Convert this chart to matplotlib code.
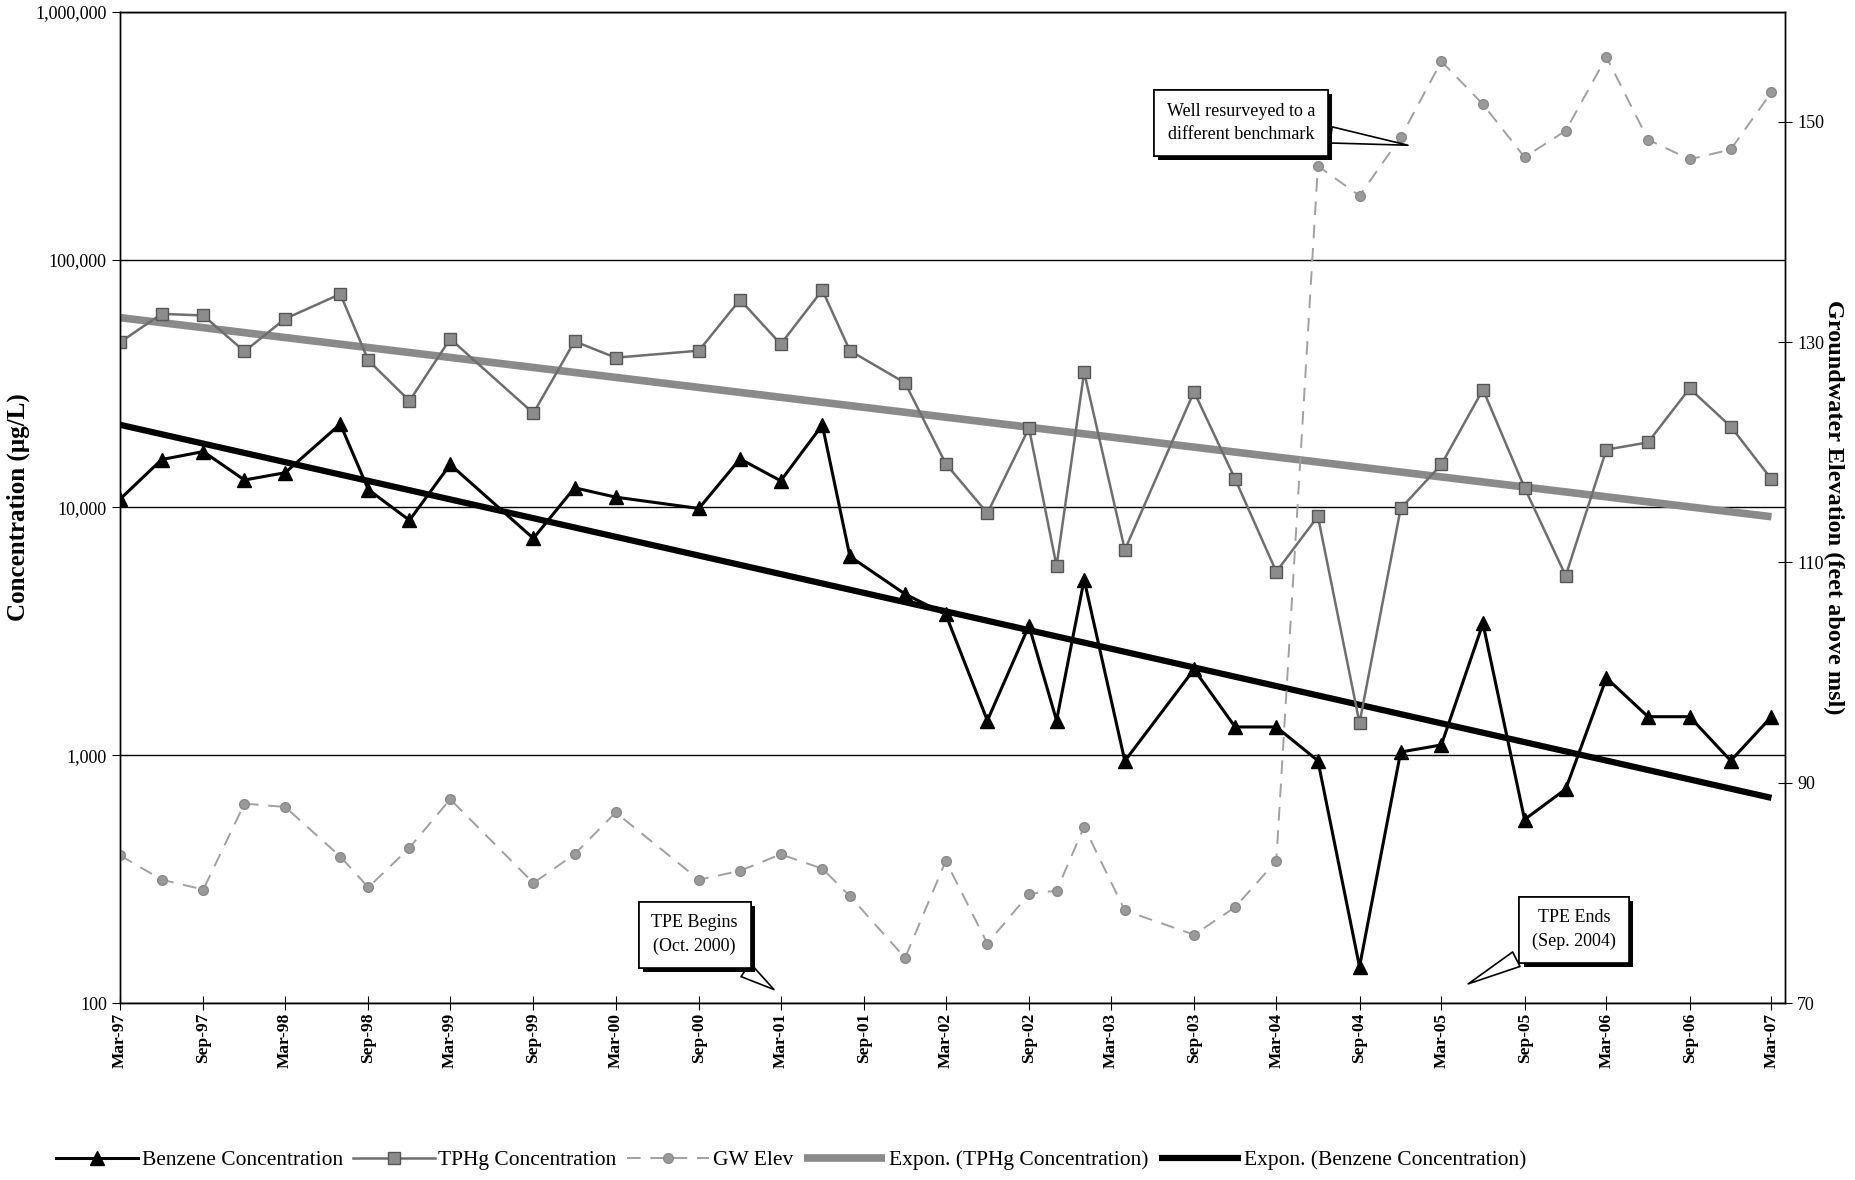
import numpy as np
import matplotlib
matplotlib.use('Agg')
import matplotlib.pyplot as plt
import matplotlib.dates as mdates
import matplotlib.ticker as mticker
import matplotlib.patheffects as pe
from datetime import datetime

# sampling dates (year-month)
dates = ['1997-03', '1997-06', '1997-09', '1997-12',
         '1998-03', '1998-07', '1998-09', '1998-12',
         '1999-03', '1999-09', '1999-12',
         '2000-03', '2000-09', '2000-12',
         '2001-03', '2001-06', '2001-08', '2001-12',
         '2002-03', '2002-06', '2002-09', '2002-11',
         '2003-01', '2003-04', '2003-09', '2003-12',
         '2004-03', '2004-06', '2004-09', '2004-12',
         '2005-03', '2005-06', '2005-09', '2005-12',
         '2006-03', '2006-06', '2006-09', '2006-12',
         '2007-03']

# concentrations (ug/L)
benzene = [10800, 15600, 16800, 12900,
           13800, 21700, 11800, 8870,
           14900, 7500, 12000,
           11000, 9900, 15700,
           12800, 21500, 6340, 4470,
           3700, 1380, 3330, 1380,
           5110, 948, 2220, 1300,
           1300, 950, 140, 1030,
           1100, 3400, 550, 730,
           2050, 1430, 1430, 950,
           1430]
tphg = [46400, 60400, 59500, 42600,
        57700, 72600, 39200, 26900,
        47900, 24000, 46800,
        40200, 42900, 68900,
        45600, 75300, 42900, 31800,
        15000, 9480, 20900, 5800,
        35100, 6740, 29300, 13000,
        5500, 9200, 1350, 9900,
        14900, 29900, 12000, 5300,
        17100, 18300, 30200, 21200,
        13000]
# groundwater elevation (feet above msl)
gw_elev = [83.4, 81.2, 80.3, 88.1,
           87.8, 83.3, 80.5, 84.1,
           88.5, 80.9, 83.5,
           87.3, 81.2, 82.0,
           83.5, 82.2, 79.7, 74.1,
           82.9, 75.4, 79.9, 80.2,
           86.0, 78.4, 76.2, 78.7,
           82.9, 146.0, 143.3, 148.6,
           155.5, 151.6, 146.8, 149.2,
           155.9, 148.4, 146.6, 147.5,
           152.7]

x = [datetime.strptime(d, '%Y-%m') for d in dates]
xn = mdates.date2num(x)

plt.rcParams['font.family'] = ['Liberation Serif', 'DejaVu Serif']

fig = plt.figure(figsize=(18.56, 11.8), dpi=100)
ax = fig.add_axes([0.0647, 0.15, 0.8973, 0.84])
ax2 = ax.twinx()

# exponential trend lines (least squares on log values, like Excel)
b_fit = np.polyfit(xn, np.log(benzene), 1)
t_fit = np.polyfit(xn, np.log(tphg), 1)
xt = np.array([xn[0], xn[-1]])

l_b, = ax.plot(x, benzene, color='black', lw=2.2, marker='^', ms=10,
               mfc='black', mec='black', label='Benzene Concentration', zorder=4)
l_t, = ax.plot(x, tphg, color='#6e6e6e', lw=1.8, marker='s', ms=8,
               mfc='#8c8c8c', mec='#555555', label='TPHg Concentration', zorder=3)
l_tt, = ax.plot(mdates.num2date(xt), np.exp(np.polyval(t_fit, xt)), color='#8a8a8a',
                lw=5.5, solid_capstyle='butt', label='Expon. (TPHg Concentration)', zorder=2)
l_bt, = ax.plot(mdates.num2date(xt), np.exp(np.polyval(b_fit, xt)), color='black',
                lw=4.5, solid_capstyle='butt', label='Expon. (Benzene Concentration)', zorder=2)
l_gw, = ax2.plot(x, gw_elev, color='#a0a0a0', lw=1.4, ls=(0, (7, 5)), marker='o', ms=7,
                 mfc='#9a9a9a', mec='#8a8a8a', label='GW Elev')

ax.set_yscale('log')
ax.set_ylim(100, 1e6)
ax.set_yticks([100, 1e3, 1e4, 1e5, 1e6])
ax.yaxis.set_major_formatter(mticker.FuncFormatter(lambda v, p: f'{v:,.0f}'))
ax.yaxis.set_minor_locator(mticker.NullLocator())
ax.yaxis.grid(True, color='black', lw=1.0)
ax.set_axisbelow(True)

ax.set_xlim(datetime(1997, 3, 1), datetime(2007, 4, 1))
ax.xaxis.set_major_locator(mdates.MonthLocator(bymonth=[3, 9]))
ax.xaxis.set_major_formatter(mdates.DateFormatter('%b-%y'))
for lab in ax.get_xticklabels():
    lab.set_rotation(90)
    lab.set_fontweight('bold')
ax.tick_params(axis='x', direction='inout', length=10, labelsize=12.5, pad=2)
ax.tick_params(axis='y', direction='out', length=6, labelsize=13)

ax2.set_ylim(70, 160)
ax2.set_yticks([70, 90, 110, 130, 150])
ax2.tick_params(axis='y', direction='inout', length=10, labelsize=13)

for a in (ax, ax2):
    for s in a.spines.values():
        s.set_linewidth(1.0)

ax.set_ylabel('Concentration (µg/L)', fontsize=18, fontweight='bold', labelpad=4)
ax2.set_ylabel('Groundwater Elevation (feet above msl)', fontsize=17.5, fontweight='bold',
               rotation=270, labelpad=14)

# callouts
shadow = [pe.withSimplePatchShadow(offset=(3, -3), shadow_rgbFace='black', alpha=1.0), pe.Normal()]
callouts = [
    ('Well resurveyed to a\ndifferent benchmark', (0.673, 0.888), (0.775, 0.865)),
    ('TPE Begins\n(Oct. 2000)', (0.345, 0.069), (0.394, 0.012)),
    ('TPE Ends\n(Sep. 2004)', (0.873, 0.074), (0.808, 0.018)),
]
for txt, pos, tgt in callouts:
    an = ax2.annotate(txt, xy=tgt, xycoords='axes fraction', xytext=pos,
                      textcoords='axes fraction', ha='center', va='center', fontsize=13,
                      linespacing=1.5,
                      bbox=dict(boxstyle='square,pad=0.7', fc='white', ec='black', lw=1.2),
                      arrowprops=dict(arrowstyle='wedge,tail_width=0.9,shrink_factor=0.5',
                                      fc='white', ec='black', lw=1.2),
                      zorder=10)
    an.get_bbox_patch().set_path_effects(shadow)

fig.legend(handles=[l_b, l_t, l_gw, l_tt, l_bt], loc='lower left',
           bbox_to_anchor=(0.02, -0.008), ncol=5, frameon=False, fontsize=15.5,
           handlelength=3.8, handletextpad=0.15, columnspacing=0.5)

fig.savefig('out.png', dpi=100)
